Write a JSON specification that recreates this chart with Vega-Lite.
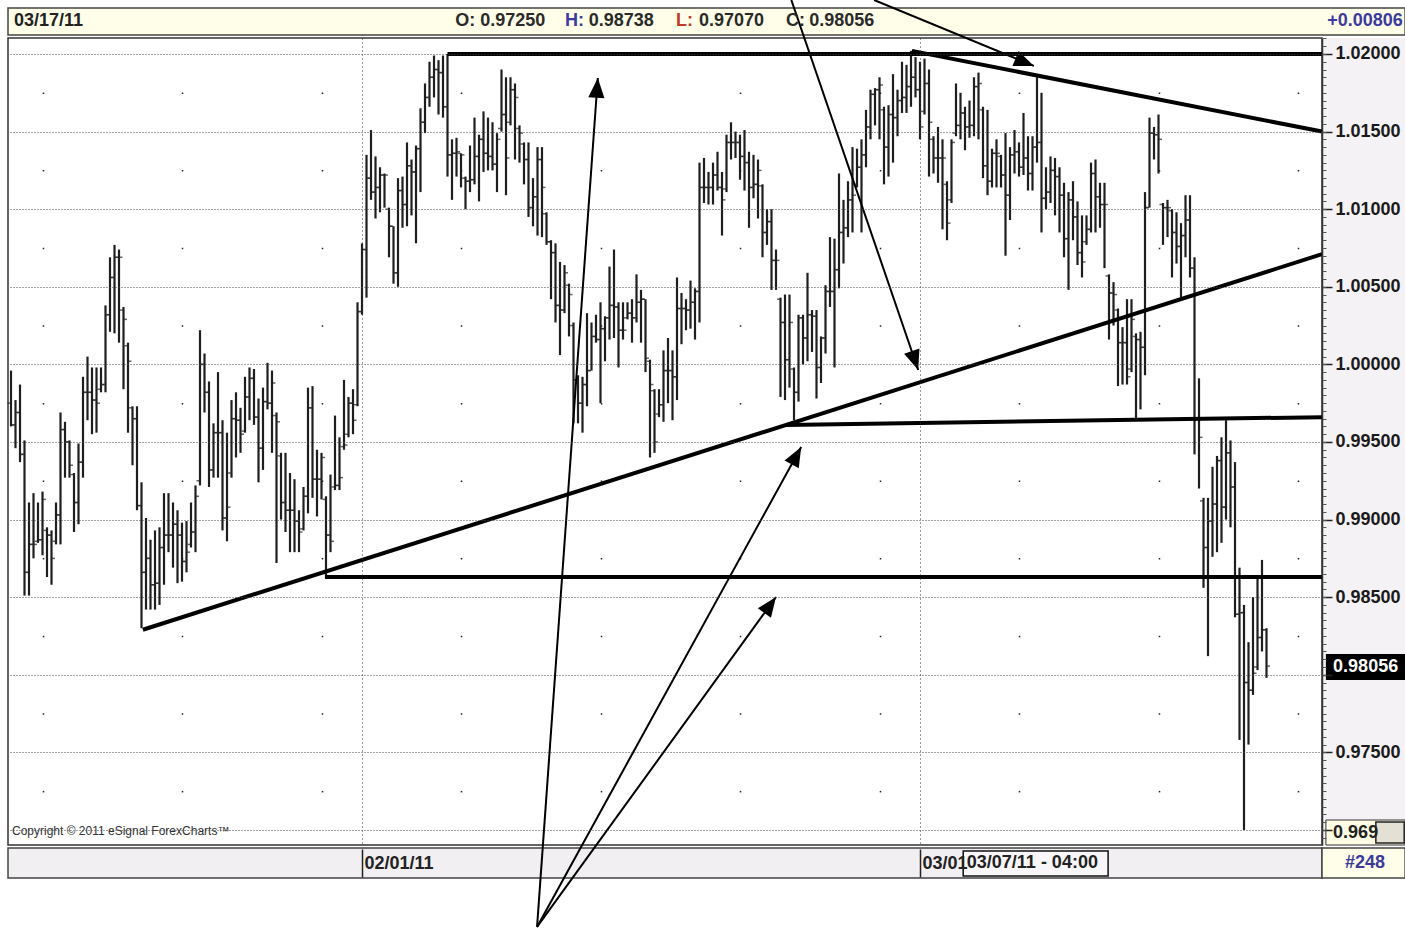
{
"$schema": "https://vega.github.io/schema/vega-lite/v6.json",
"width": 1314, "height": 807,
"autosize": {"type": "none"},
"padding": {"left": 8, "top": 38, "right": 83, "bottom": 87},
"background": "white",
"config": {"view": {"stroke": "#333", "strokeWidth": 1.5}, "text": {"font": "Liberation Sans, Arial, sans-serif"}},
"resolve": {"axis": {"x": "independent", "y": "independent"}},
"datasets": {
"bars": [
{"b":0,"o":0.9975,"h":0.9996,"l":0.9960,"c":0.9961},{"b":1,"o":0.9961,"h":0.9977,"l":0.9946,"c":0.9969},{"b":2,"o":0.9969,"h":0.9987,"l":0.9937,"c":0.9942},{"b":3,"o":0.9942,"h":0.9951,"l":0.9851,"c":0.9866},{"b":4,"o":0.9866,"h":0.9911,"l":0.9851,"c":0.9884},{"b":5,"o":0.9884,"h":0.9917,"l":0.9875,"c":0.9884},{"b":6,"o":0.9886,"h":0.9911,"l":0.9885,"c":0.9887},{"b":7,"o":0.9887,"h":0.9918,"l":0.9877,"c":0.9913},{"b":8,"o":0.9893,"h":0.9895,"l":0.9863,"c":0.9890},{"b":9,"o":0.9890,"h":0.9893,"l":0.9858,"c":0.9875},
{"b":10,"o":0.9886,"h":0.9911,"l":0.9884,"c":0.9903},{"b":11,"o":0.9903,"h":0.9969,"l":0.9884,"c":0.9958},{"b":12,"o":0.9958,"h":0.9963,"l":0.9927,"c":0.9950},{"b":13,"o":0.9950,"h":0.9951,"l":0.9927,"c":0.9935},{"b":14,"o":0.9929,"h":0.9930,"l":0.9892,"c":0.9911},{"b":15,"o":0.9911,"h":0.9949,"l":0.9897,"c":0.9937},{"b":16,"o":0.9937,"h":0.9992,"l":0.9927,"c":0.9982},{"b":17,"o":0.9982,"h":1.0005,"l":0.9964,"c":0.9982},{"b":18,"o":0.9982,"h":0.9998,"l":0.9955,"c":0.9977},{"b":19,"o":0.9977,"h":0.9998,"l":0.9956,"c":0.9975},
{"b":20,"o":0.9984,"h":0.9998,"l":0.9982,"c":0.9987},{"b":21,"o":0.9987,"h":1.0038,"l":0.9982,"c":1.0032},{"b":22,"o":1.0032,"h":1.0069,"l":1.0021,"c":1.0056},{"b":23,"o":1.0056,"h":1.0077,"l":1.0020,"c":1.0069},{"b":24,"o":1.0069,"h":1.0074,"l":1.0014,"c":1.0069},{"b":25,"o":1.0035,"h":1.0037,"l":0.9984,"c":1.0029},{"b":26,"o":1.0012,"h":1.0014,"l":0.9956,"c":1.0002},{"b":27,"o":0.9972,"h":0.9973,"l":0.9935,"c":0.9965},{"b":28,"o":0.9965,"h":0.9973,"l":0.9906,"c":0.9909},{"b":29,"o":0.9909,"h":0.9924,"l":0.9830,"c":0.9866},
{"b":30,"o":0.9866,"h":0.9901,"l":0.9842,"c":0.9875},{"b":31,"o":0.9875,"h":0.9887,"l":0.9842,"c":0.9858},{"b":32,"o":0.9858,"h":0.9893,"l":0.9842,"c":0.9859},{"b":33,"o":0.9859,"h":0.9895,"l":0.9845,"c":0.9882},{"b":34,"o":0.9882,"h":0.9917,"l":0.9858,"c":0.9890},{"b":35,"o":0.9890,"h":0.9917,"l":0.9879,"c":0.9890},{"b":36,"o":0.9890,"h":0.9911,"l":0.9869,"c":0.9897},{"b":37,"o":0.9897,"h":0.9906,"l":0.9859,"c":0.9890},{"b":38,"o":0.9890,"h":0.9898,"l":0.9860,"c":0.9873},{"b":39,"o":0.9873,"h":0.9899,"l":0.9866,"c":0.9879},
{"b":40,"o":0.9884,"h":0.9911,"l":0.9882,"c":0.9892},{"b":41,"o":0.9892,"h":0.9922,"l":0.9879,"c":0.9915},{"b":42,"o":0.9925,"h":1.0022,"l":0.9922,"c":1.0000},{"b":43,"o":1.0000,"h":1.0007,"l":0.9969,"c":0.9982},{"b":44,"o":0.9982,"h":0.9989,"l":0.9921,"c":0.9932},{"b":45,"o":0.9932,"h":0.9962,"l":0.9927,"c":0.9956},{"b":46,"o":0.9956,"h":0.9995,"l":0.9927,"c":0.9956},{"b":47,"o":0.9956,"h":0.9964,"l":0.9893,"c":0.9901},{"b":48,"o":0.9901,"h":0.9956,"l":0.9886,"c":0.9908},{"b":49,"o":0.9930,"h":0.9977,"l":0.9927,"c":0.9965},
{"b":50,"o":0.9965,"h":0.9982,"l":0.9940,"c":0.9964},{"b":51,"o":0.9964,"h":0.9972,"l":0.9943,"c":0.9955},{"b":52,"o":0.9957,"h":0.9992,"l":0.9956,"c":0.9979},{"b":53,"o":0.9979,"h":0.9998,"l":0.9964,"c":0.9991},{"b":54,"o":0.9991,"h":0.9997,"l":0.9961,"c":0.9966},{"b":55,"o":0.9966,"h":0.9978,"l":0.9924,"c":0.9946},{"b":56,"o":0.9946,"h":0.9985,"l":0.9932,"c":0.9976},{"b":57,"o":0.9976,"h":1.0001,"l":0.9971,"c":0.9975},{"b":58,"o":0.9975,"h":0.9996,"l":0.9943,"c":0.9988},{"b":59,"o":0.9967,"h":0.9969,"l":0.9872,"c":0.9963},
{"b":60,"o":0.9941,"h":0.9943,"l":0.9900,"c":0.9911},{"b":61,"o":0.9911,"h":0.9943,"l":0.9892,"c":0.9906},{"b":62,"o":0.9906,"h":0.9930,"l":0.9879,"c":0.9906},{"b":63,"o":0.9906,"h":0.9926,"l":0.9879,"c":0.9899},{"b":64,"o":0.9899,"h":0.9906,"l":0.9879,"c":0.9892},{"b":65,"o":0.9894,"h":0.9921,"l":0.9893,"c":0.9915},{"b":66,"o":0.9915,"h":0.9985,"l":0.9904,"c":0.9972},{"b":67,"o":0.9972,"h":0.9986,"l":0.9914,"c":0.9926},{"b":68,"o":0.9926,"h":0.9945,"l":0.9902,"c":0.9926},{"b":69,"o":0.9926,"h":0.9943,"l":0.9913,"c":0.9940},
{"b":70,"o":0.9913,"h":0.9915,"l":0.9862,"c":0.9890},{"b":71,"o":0.9890,"h":0.9929,"l":0.9879,"c":0.9886},{"b":72,"o":0.9921,"h":0.9967,"l":0.9919,"c":0.9922},{"b":73,"o":0.9922,"h":0.9953,"l":0.9919,"c":0.9927},{"b":74,"o":0.9947,"h":0.9990,"l":0.9945,"c":0.9948},{"b":75,"o":0.9955,"h":0.9979,"l":0.9953,"c":0.9975},{"b":76,"o":0.9975,"h":0.9984,"l":0.9955,"c":0.9964},{"b":77,"o":0.9974,"h":1.0040,"l":0.9973,"c":1.0034},{"b":78,"o":1.0034,"h":1.0078,"l":1.0032,"c":1.0074},{"b":79,"o":1.0074,"h":1.0135,"l":1.0043,"c":1.0120},
{"b":80,"o":1.0120,"h":1.0151,"l":1.0106,"c":1.0111},{"b":81,"o":1.0111,"h":1.0134,"l":1.0094,"c":1.0114},{"b":82,"o":1.0114,"h":1.0127,"l":1.0098,"c":1.0122},{"b":83,"o":1.0122,"h":1.0123,"l":1.0101,"c":1.0122},{"b":84,"o":1.0100,"h":1.0101,"l":1.0069,"c":1.0089},{"b":85,"o":1.0089,"h":1.0089,"l":1.0052,"c":1.0059},{"b":86,"o":1.0059,"h":1.0120,"l":1.0050,"c":1.0112},{"b":87,"o":1.0112,"h":1.0121,"l":1.0088,"c":1.0103},{"b":88,"o":1.0103,"h":1.0143,"l":1.0089,"c":1.0128},{"b":89,"o":1.0128,"h":1.0132,"l":1.0096,"c":1.0124},
{"b":90,"o":1.0124,"h":1.0141,"l":1.0078,"c":1.0139},{"b":91,"o":1.0139,"h":1.0165,"l":1.0111,"c":1.0156},{"b":92,"o":1.0156,"h":1.0181,"l":1.0149,"c":1.0172},{"b":93,"o":1.0172,"h":1.0195,"l":1.0166,"c":1.0185},{"b":94,"o":1.0185,"h":1.0199,"l":1.0172,"c":1.0190},{"b":95,"o":1.0190,"h":1.0196,"l":1.0161,"c":1.0188},{"b":96,"o":1.0188,"h":1.0199,"l":1.0159,"c":1.0166},{"b":97,"o":1.0166,"h":1.0200,"l":1.0121,"c":1.0135},{"b":98,"o":1.0135,"h":1.0145,"l":1.0106,"c":1.0136},{"b":99,"o":1.0136,"h":1.0146,"l":1.0121,"c":1.0137},
{"b":100,"o":1.0136,"h":1.0136,"l":1.0114,"c":1.0135},{"b":101,"o":1.0120,"h":1.0121,"l":1.0100,"c":1.0118},{"b":102,"o":1.0118,"h":1.0141,"l":1.0111,"c":1.0119},{"b":103,"o":1.0119,"h":1.0159,"l":1.0116,"c":1.0134},{"b":104,"o":1.0134,"h":1.0148,"l":1.0105,"c":1.0145},{"b":105,"o":1.0145,"h":1.0163,"l":1.0124,"c":1.0136},{"b":106,"o":1.0136,"h":1.0159,"l":1.0125,"c":1.0134},{"b":107,"o":1.0134,"h":1.0156,"l":1.0125,"c":1.0129},{"b":108,"o":1.0129,"h":1.0149,"l":1.0111,"c":1.0145},{"b":109,"o":1.0152,"h":1.0190,"l":1.0150,"c":1.0161},
{"b":110,"o":1.0161,"h":1.0185,"l":1.0109,"c":1.0133},{"b":111,"o":1.0156,"h":1.0185,"l":1.0154,"c":1.0177},{"b":112,"o":1.0177,"h":1.0181,"l":1.0132,"c":1.0172},{"b":113,"o":1.0152,"h":1.0154,"l":1.0130,"c":1.0149},{"b":114,"o":1.0142,"h":1.0143,"l":1.0116,"c":1.0132},{"b":115,"o":1.0132,"h":1.0143,"l":1.0095,"c":1.0101},{"b":116,"o":1.0101,"h":1.0120,"l":1.0089,"c":1.0108},{"b":117,"o":1.0108,"h":1.0140,"l":1.0083,"c":1.0132},{"b":118,"o":1.0132,"h":1.0140,"l":1.0082,"c":1.0114},{"b":119,"o":1.0097,"h":1.0098,"l":1.0077,"c":1.0079},
{"b":120,"o":1.0079,"h":1.0080,"l":1.0042,"c":1.0072},{"b":121,"o":1.0072,"h":1.0078,"l":1.0027,"c":1.0038},{"b":122,"o":1.0038,"h":1.0066,"l":1.0006,"c":1.0035},{"b":123,"o":1.0035,"h":1.0064,"l":1.0033,"c":1.0059},{"b":124,"o":1.0051,"h":1.0052,"l":1.0018,"c":1.0045},{"b":125,"o":1.0025,"h":1.0027,"l":0.9962,"c":0.9990},{"b":126,"o":0.9990,"h":0.9993,"l":0.9962,"c":0.9975},{"b":127,"o":0.9975,"h":0.9992,"l":0.9956,"c":0.9987},{"b":128,"o":0.9987,"h":1.0033,"l":0.9973,"c":0.9996},{"b":129,"o":0.9996,"h":1.0027,"l":0.9996,"c":1.0018},
{"b":130,"o":1.0018,"h":1.0032,"l":1.0014,"c":1.0016},{"b":131,"o":1.0016,"h":1.0040,"l":0.9975,"c":1.0023},{"b":132,"o":1.0023,"h":1.0031,"l":1.0002,"c":1.0030},{"b":133,"o":1.0030,"h":1.0063,"l":1.0016,"c":1.0038},{"b":134,"o":1.0038,"h":1.0074,"l":1.0017,"c":1.0037},{"b":135,"o":1.0037,"h":1.0040,"l":0.9998,"c":1.0022},{"b":136,"o":1.0022,"h":1.0040,"l":1.0016,"c":1.0022},{"b":137,"o":1.0030,"h":1.0040,"l":1.0029,"c":1.0033},{"b":138,"o":1.0033,"h":1.0042,"l":1.0014,"c":1.0030},{"b":139,"o":1.0030,"h":1.0058,"l":1.0027,"c":1.0040},
{"b":140,"o":1.0040,"h":1.0048,"l":1.0014,"c":1.0042},{"b":141,"o":1.0042,"h":1.0042,"l":0.9995,"c":1.0004},{"b":142,"o":1.0002,"h":1.0003,"l":0.9940,"c":0.9987},{"b":143,"o":0.9983,"h":0.9984,"l":0.9943,"c":0.9950},{"b":144,"o":0.9968,"h":0.9984,"l":0.9966,"c":0.9974},{"b":145,"o":0.9974,"h":1.0009,"l":0.9963,"c":0.9996},{"b":146,"o":0.9996,"h":1.0017,"l":0.9975,"c":0.9996},{"b":147,"o":0.9996,"h":1.0009,"l":0.9964,"c":0.9992},{"b":148,"o":0.9992,"h":1.0056,"l":0.9977,"c":1.0036},{"b":149,"o":1.0036,"h":1.0046,"l":1.0013,"c":1.0036},
{"b":150,"o":1.0036,"h":1.0042,"l":1.0022,"c":1.0035},{"b":151,"o":1.0035,"h":1.0054,"l":1.0023,"c":1.0040},{"b":152,"o":1.0040,"h":1.0049,"l":1.0016,"c":1.0047},{"b":153,"o":1.0047,"h":1.0130,"l":1.0027,"c":1.0114},{"b":154,"o":1.0114,"h":1.0133,"l":1.0104,"c":1.0114},{"b":155,"o":1.0114,"h":1.0124,"l":1.0103,"c":1.0114},{"b":156,"o":1.0114,"h":1.0130,"l":1.0103,"c":1.0122},{"b":157,"o":1.0122,"h":1.0137,"l":1.0112,"c":1.0114},{"b":158,"o":1.0114,"h":1.0124,"l":1.0083,"c":1.0106},{"b":159,"o":1.0113,"h":1.0148,"l":1.0111,"c":1.0143},
{"b":160,"o":1.0143,"h":1.0156,"l":1.0132,"c":1.0143},{"b":161,"o":1.0143,"h":1.0150,"l":1.0133,"c":1.0143},{"b":162,"o":1.0143,"h":1.0148,"l":1.0119,"c":1.0134},{"b":163,"o":1.0134,"h":1.0151,"l":1.0112,"c":1.0130},{"b":164,"o":1.0130,"h":1.0137,"l":1.0088,"c":1.0114},{"b":165,"o":1.0114,"h":1.0135,"l":1.0107,"c":1.0116},{"b":166,"o":1.0116,"h":1.0132,"l":1.0094,"c":1.0125},{"b":167,"o":1.0115,"h":1.0116,"l":1.0069,"c":1.0085},{"b":168,"o":1.0085,"h":1.0100,"l":1.0077,"c":1.0092},{"b":169,"o":1.0092,"h":1.0100,"l":1.0048,"c":1.0067},
{"b":170,"o":1.0067,"h":1.0074,"l":1.0048,"c":1.0067},{"b":171,"o":1.0042,"h":1.0043,"l":0.9979,"c":1.0027},{"b":172,"o":1.0027,"h":1.0045,"l":0.9977,"c":1.0003},{"b":173,"o":1.0003,"h":1.0045,"l":0.9985,"c":1.0027},{"b":174,"o":0.9997,"h":0.9998,"l":0.9964,"c":0.9982},{"b":175,"o":0.9982,"h":1.0032,"l":0.9976,"c":1.0030},{"b":176,"o":1.0030,"h":1.0032,"l":1.0000,"c":1.0017},{"b":177,"o":1.0017,"h":1.0059,"l":1.0002,"c":1.0032},{"b":178,"o":1.0032,"h":1.0035,"l":1.0008,"c":1.0031},{"b":179,"o":1.0031,"h":1.0035,"l":0.9978,"c":0.9998},
{"b":180,"o":0.9998,"h":1.0018,"l":0.9988,"c":1.0017},{"b":181,"o":1.0017,"h":1.0051,"l":1.0007,"c":1.0047},{"b":182,"o":1.0047,"h":1.0082,"l":1.0037,"c":1.0047},{"b":183,"o":1.0047,"h":1.0081,"l":0.9998,"c":1.0061},{"b":184,"o":1.0061,"h":1.0123,"l":1.0049,"c":1.0085},{"b":185,"o":1.0085,"h":1.0106,"l":1.0065,"c":1.0088},{"b":186,"o":1.0088,"h":1.0118,"l":1.0082,"c":1.0106},{"b":187,"o":1.0106,"h":1.0140,"l":1.0085,"c":1.0109},{"b":188,"o":1.0116,"h":1.0139,"l":1.0114,"c":1.0127},{"b":189,"o":1.0127,"h":1.0145,"l":1.0085,"c":1.0135},
{"b":190,"o":1.0135,"h":1.0164,"l":1.0127,"c":1.0153},{"b":191,"o":1.0153,"h":1.0177,"l":1.0145,"c":1.0174},{"b":192,"o":1.0174,"h":1.0178,"l":1.0154,"c":1.0177},{"b":193,"o":1.0177,"h":1.0185,"l":1.0145,"c":1.0180},{"b":194,"o":1.0164,"h":1.0166,"l":1.0116,"c":1.0140},{"b":195,"o":1.0140,"h":1.0167,"l":1.0121,"c":1.0161},{"b":196,"o":1.0161,"h":1.0187,"l":1.0130,"c":1.0159},{"b":197,"o":1.0159,"h":1.0177,"l":1.0147,"c":1.0170},{"b":198,"o":1.0170,"h":1.0195,"l":1.0162,"c":1.0172},{"b":199,"o":1.0172,"h":1.0193,"l":1.0162,"c":1.0179},
{"b":200,"o":1.0179,"h":1.0202,"l":1.0166,"c":1.0185},{"b":201,"o":1.0185,"h":1.0198,"l":1.0172,"c":1.0177},{"b":202,"o":1.0177,"h":1.0195,"l":1.0145,"c":1.0153},{"b":203,"o":1.0163,"h":1.0197,"l":1.0161,"c":1.0181},{"b":204,"o":1.0181,"h":1.0190,"l":1.0121,"c":1.0156},{"b":205,"o":1.0145,"h":1.0147,"l":1.0123,"c":1.0133},{"b":206,"o":1.0133,"h":1.0153,"l":1.0117,"c":1.0133},{"b":207,"o":1.0133,"h":1.0145,"l":1.0087,"c":1.0133},{"b":208,"o":1.0116,"h":1.0118,"l":1.0080,"c":1.0091},{"b":209,"o":1.0106,"h":1.0145,"l":1.0104,"c":1.0143},
{"b":210,"o":1.0149,"h":1.0181,"l":1.0147,"c":1.0154},{"b":211,"o":1.0154,"h":1.0175,"l":1.0145,"c":1.0162},{"b":212,"o":1.0162,"h":1.0166,"l":1.0138,"c":1.0153},{"b":213,"o":1.0153,"h":1.0170,"l":1.0146,"c":1.0154},{"b":214,"o":1.0154,"h":1.0185,"l":1.0147,"c":1.0179},{"b":215,"o":1.0179,"h":1.0188,"l":1.0145,"c":1.0181},{"b":216,"o":1.0164,"h":1.0166,"l":1.0120,"c":1.0128},{"b":217,"o":1.0128,"h":1.0164,"l":1.0109,"c":1.0118},{"b":218,"o":1.0118,"h":1.0139,"l":1.0114,"c":1.0136},{"b":219,"o":1.0136,"h":1.0145,"l":1.0114,"c":1.0136},
{"b":220,"o":1.0134,"h":1.0135,"l":1.0114,"c":1.0122},{"b":221,"o":1.0122,"h":1.0149,"l":1.0070,"c":1.0109},{"b":222,"o":1.0109,"h":1.0140,"l":1.0093,"c":1.0135},{"b":223,"o":1.0135,"h":1.0151,"l":1.0123,"c":1.0137},{"b":224,"o":1.0137,"h":1.0143,"l":1.0121,"c":1.0127},{"b":225,"o":1.0127,"h":1.0162,"l":1.0122,"c":1.0133},{"b":226,"o":1.0133,"h":1.0147,"l":1.0112,"c":1.0123},{"b":227,"o":1.0123,"h":1.0147,"l":1.0112,"c":1.0140},{"b":228,"o":1.0140,"h":1.0185,"l":1.0130,"c":1.0143},{"b":229,"o":1.0143,"h":1.0175,"l":1.0085,"c":1.0107},
{"b":230,"o":1.0107,"h":1.0127,"l":1.0100,"c":1.0111},{"b":231,"o":1.0111,"h":1.0134,"l":1.0104,"c":1.0125},{"b":232,"o":1.0125,"h":1.0133,"l":1.0096,"c":1.0121},{"b":233,"o":1.0121,"h":1.0127,"l":1.0085,"c":1.0109},{"b":234,"o":1.0109,"h":1.0117,"l":1.0069,"c":1.0081},{"b":235,"o":1.0081,"h":1.0111,"l":1.0048,"c":1.0106},{"b":236,"o":1.0106,"h":1.0118,"l":1.0080,"c":1.0095},{"b":237,"o":1.0095,"h":1.0105,"l":1.0064,"c":1.0072},{"b":238,"o":1.0072,"h":1.0096,"l":1.0056,"c":1.0066},{"b":239,"o":1.0079,"h":1.0096,"l":1.0077,"c":1.0087},
{"b":240,"o":1.0087,"h":1.0130,"l":1.0085,"c":1.0123},{"b":241,"o":1.0123,"h":1.0132,"l":1.0085,"c":1.0108},{"b":242,"o":1.0108,"h":1.0117,"l":1.0088,"c":1.0103},{"b":243,"o":1.0103,"h":1.0117,"l":1.0062,"c":1.0103},{"b":244,"o":1.0057,"h":1.0058,"l":1.0016,"c":1.0046},{"b":245,"o":1.0046,"h":1.0053,"l":1.0025,"c":1.0045},{"b":246,"o":1.0035,"h":1.0036,"l":0.9986,"c":1.0014},{"b":247,"o":1.0014,"h":1.0024,"l":0.9987,"c":1.0014},{"b":248,"o":1.0014,"h":1.0042,"l":0.9987,"c":0.9992},{"b":249,"o":0.9997,"h":1.0042,"l":0.9995,"c":1.0029},
{"b":250,"o":1.0018,"h":1.0020,"l":0.9965,"c":1.0016},{"b":251,"o":1.0016,"h":1.0021,"l":0.9971,"c":1.0011},{"b":252,"o":1.0011,"h":1.0111,"l":0.9993,"c":1.0101},{"b":253,"o":1.0101,"h":1.0159,"l":1.0101,"c":1.0149},{"b":254,"o":1.0149,"h":1.0153,"l":1.0132,"c":1.0148},{"b":255,"o":1.0148,"h":1.0161,"l":1.0123,"c":1.0145},{"b":256,"o":1.0103,"h":1.0104,"l":1.0077,"c":1.0101},{"b":257,"o":1.0101,"h":1.0106,"l":1.0082,"c":1.0101},{"b":258,"o":1.0099,"h":1.0100,"l":1.0056,"c":1.0085},{"b":259,"o":1.0085,"h":1.0098,"l":1.0065,"c":1.0076},
{"b":260,"o":1.0076,"h":1.0091,"l":1.0043,"c":1.0083},{"b":261,"o":1.0083,"h":1.0109,"l":1.0069,"c":1.0093},{"b":262,"o":1.0093,"h":1.0109,"l":1.0056,"c":1.0062},{"b":263,"o":1.0062,"h":1.0069,"l":0.9942,"c":0.9965},{"b":264,"o":0.9965,"h":0.9991,"l":0.9920,"c":0.9953},{"b":265,"o":0.9912,"h":0.9914,"l":0.9856,"c":0.9882},{"b":266,"o":0.9882,"h":0.9914,"l":0.9812,"c":0.9899},{"b":267,"o":0.9899,"h":0.9934,"l":0.9876,"c":0.9910},{"b":268,"o":0.9910,"h":0.9941,"l":0.9879,"c":0.9938},{"b":269,"o":0.9938,"h":0.9953,"l":0.9885,"c":0.9908},
{"b":270,"o":0.9908,"h":0.9964,"l":0.9900,"c":0.9943},{"b":271,"o":0.9943,"h":0.9951,"l":0.9895,"c":0.9921},{"b":272,"o":0.9921,"h":0.9937,"l":0.9837,"c":0.9839},{"b":273,"o":0.9839,"h":0.9869,"l":0.9758,"c":0.9840},{"b":274,"o":0.9840,"h":0.9845,"l":0.9700,"c":0.9795},{"b":275,"o":0.9795,"h":0.9821,"l":0.9755,"c":0.9790},{"b":276,"o":0.9790,"h":0.9850,"l":0.9787,"c":0.9801},{"b":277,"o":0.9805,"h":0.9863,"l":0.9803,"c":0.9824},{"b":278,"o":0.9824,"h":0.9874,"l":0.9815,"c":0.9829},{"b":279,"o":0.9829,"h":0.9830,"l":0.9798,"c":0.98056}
],
"lines": [
{"b1":97,"v1":1.0200,"b2":291.333,"v2":1.0200},
{"b1":200.2,"v1":1.0202,"b2":291.333,"v2":1.0150},
{"b1":29.3,"v1":0.9829,"b2":291.333,"v2":1.0071},
{"b1":172.4,"v1":0.9961,"b2":291.333,"v2":0.9966},
{"b1":69.8,"v1":0.9863,"b2":291.333,"v2":0.9863}
],
"arrows": [
{"b1":116.9,"v1":0.96375,"b2":130.4,"v2":1.01845,"ang":4.1},
{"b1":116.9,"v1":0.96375,"b2":175.6,"v2":0.99468,"ang":28.8},
{"b1":116.9,"v1":0.96375,"b2":170.0,"v2":0.98501,"ang":35.9},
{"b1":173.4,"v1":1.02348,"b2":201.6,"v2":0.99964,"ang":161.1},
{"b1":191.8,"v1":1.02348,"b2":227.3,"v2":1.01923,"ang":112.4}
]
},
"layer": [
{"data": {"values": [{}]}, "mark": {"type": "rect", "fill": "#F4F2F5"},
 "encoding": {"x": {"datum": 291.333, "type": "quantitative", "scale": {"domain": [-0.667, 291.333], "nice": false, "zero": false}, "axis": null}, "x2": {"datum": 309.8},
  "y": {"datum": 0.96903, "type": "quantitative", "scale": {"domain": [0.96903, 1.02103], "nice": false, "zero": false}, "axis": null}, "y2": {"datum": 1.02103}}},
{"data": {"values": [{}]}, "mark": {"type": "rect", "fill": "#FFFEE8", "stroke": "#444", "strokeWidth": 1.5},
 "encoding": {"x": {"datum": -0.667, "type": "quantitative", "axis": null}, "x2": {"datum": 309.8},
  "y": {"datum": 1.02296, "type": "quantitative", "axis": null}, "y2": {"datum": 1.02122}}},
{"data": {"values": [{}]}, "mark": {"type": "rect", "fill": "#F1EFF1", "stroke": "#444", "strokeWidth": 1.5},
 "encoding": {"x": {"datum": -0.667, "type": "quantitative", "axis": null}, "x2": {"datum": 291.333},
  "y": {"datum": 0.96884, "type": "quantitative", "axis": null}, "y2": {"datum": 0.96691}}},
{"data": {"values": [{}]}, "mark": {"type": "rect", "fill": "#FFFEE8", "stroke": "#444", "strokeWidth": 1.5},
 "encoding": {"x": {"datum": 291.333, "type": "quantitative", "axis": null}, "x2": {"datum": 309.8},
  "y": {"datum": 0.96884, "type": "quantitative", "axis": null}, "y2": {"datum": 0.96691}}},
{"data": {"values": [{}]}, "mark": {"type": "rect", "fill": "#F8F6F8", "stroke": "#111", "strokeWidth": 1.5},
 "encoding": {"x": {"datum": 211.6, "type": "quantitative", "axis": null}, "x2": {"datum": 243.8},
  "y": {"datum": 0.96865, "type": "quantitative", "axis": null}, "y2": {"datum": 0.96703}}},
{"data": {"name": "bars"}, "mark": {"type": "rule", "color": "#1e1e1e", "strokeWidth": 2.2},
 "encoding": {
  "x": {"field": "b", "type": "quantitative", "axis": {"orient": "bottom", "values": [78, 202], "labelExpr": "datum.value < 100 ? '02/01/11' : '03/01'", "title": null, "domain": false, "offset": 4, "ticks": true, "tickSize": 28, "tickColor": "#222", "tickWidth": 1.5, "labelAlign": "left", "labelBaseline": "middle", "labelPadding": -14, "labelOffset": 2, "labelFont": "Liberation Sans, Arial, sans-serif", "labelFontSize": 18, "labelFontWeight": "bold", "labelColor": "#222", "labelFlush": false, "labelOverlap": false, "grid": true, "gridDash": [1, 3], "gridColor": "#333", "gridWidth": 1, "zindex": 1}},
  "y": {"field": "h", "type": "quantitative", "axis": {"orient": "right", "values": [0.97, 0.975, 0.98, 0.985, 0.99, 0.995, 1.0, 1.005, 1.01, 1.015, 1.02], "labelExpr": "(datum.value < 0.9705 || abs(datum.value - 0.98) < 0.001) ? '' : format(datum.value, '.5f')", "title": null, "domain": true, "domainColor": "#333", "domainWidth": 1.5, "tickSize": 10, "tickColor": "#222", "tickWidth": 1.5, "labelPadding": 3, "labelFont": "Liberation Sans, Arial, sans-serif", "labelFontSize": 18, "labelFontWeight": "bold", "labelColor": "#1a1a1a", "labelBaseline": "middle", "labelAlign": "left", "labelOverlap": false, "labelFlush": false, "labelBound": false, "grid": true, "gridDash": [1, 2], "gridColor": "#444", "gridWidth": 1, "zindex": 1}},
  "y2": {"field": "l"}}},
{"data": {"name": "bars"}, "mark": {"type": "tick", "orient": "horizontal", "size": 3, "thickness": 1.5, "color": "#222", "xOffset": -2},
 "encoding": {"x": {"field": "b", "type": "quantitative", "axis": null}, "y": {"field": "o", "type": "quantitative", "axis": null}}},
{"data": {"name": "bars"}, "mark": {"type": "tick", "orient": "horizontal", "size": 3, "thickness": 1.5, "color": "#222", "xOffset": 2},
 "encoding": {"x": {"field": "b", "type": "quantitative", "axis": null}, "y": {"field": "c", "type": "quantitative", "axis": null}}},
{"data": {"name": "lines"}, "mark": {"type": "rule", "color": "#000", "strokeWidth": 4},
 "encoding": {
  "x": {"field": "b1", "type": "quantitative", "axis": {"orient": "bottom", "values": [7, 38, 69, 100, 131, 162, 193, 224, 255, 286], "labels": false, "ticks": false, "domain": false, "title": null, "grid": true, "gridDash": [1.5, 76.1], "gridDashOffset": 23.6, "gridColor": "#222", "gridWidth": 1.5}},
  "y": {"field": "v1", "type": "quantitative", "axis": {"orient": "right", "tickCount": 104, "labels": false, "domain": false, "grid": false, "ticks": true, "tickSize": 4, "tickColor": "#555", "tickWidth": 1, "title": null, "zindex": 1}},
  "x2": {"field": "b2"}, "y2": {"field": "v2"}}},
{"data": {"name": "arrows"}, "mark": {"type": "rule", "color": "#000", "strokeWidth": 2},
 "encoding": {"x": {"field": "b1", "type": "quantitative", "axis": null}, "y": {"field": "v1", "type": "quantitative", "axis": null}, "x2": {"field": "b2"}, "y2": {"field": "v2"}}},
{"data": {"name": "arrows"}, "mark": {"type": "point", "shape": "M0,0L0.9,2.2L-0.9,2.2Z", "filled": true, "color": "#000", "opacity": 1, "size": 324},
 "encoding": {"x": {"field": "b2", "type": "quantitative", "axis": null}, "y": {"field": "v2", "type": "quantitative", "axis": null}, "angle": {"field": "ang", "type": "quantitative", "scale": null}}},
{"data": {"values": [{}]}, "mark": {"type": "rect", "fill": "#000"},
 "encoding": {"x": {"datum": 292.2, "type": "quantitative", "axis": null}, "x2": {"datum": 309.8},
  "y": {"datum": 0.98134, "type": "quantitative", "axis": null}, "y2": {"datum": 0.97966}}},
{"data": {"values": [{}]}, "mark": {"type": "rect", "fill": "#FFFCE6", "stroke": "#333", "strokeWidth": 1},
 "encoding": {"x": {"datum": 292.2, "type": "quantitative", "axis": null}, "x2": {"datum": 309.8},
  "y": {"datum": 0.97064, "type": "quantitative", "axis": null}, "y2": {"datum": 0.96903}}},
{"data": {"values": [{}]}, "mark": {"type": "rect", "fill": "#E4E0D4", "stroke": "#222", "strokeWidth": 1.5},
 "encoding": {"x": {"datum": 303.3, "type": "quantitative", "axis": null}, "x2": {"datum": 309.6},
  "y": {"datum": 0.97052, "type": "quantitative", "axis": null}, "y2": {"datum": 0.96916}}},
{"data": {"values": [{}]}, "mark": {"type": "text", "text": "03/17/11", "align": "left", "baseline": "middle", "fontSize": 18, "fontWeight": "bold", "color": "#222"},
 "encoding": {"x": {"datum": 0.67, "type": "quantitative", "axis": null}, "y": {"datum": 1.02213, "type": "quantitative", "axis": null}}},
{"data": {"values": [{}]}, "mark": {"type": "text", "text": "O: 0.97250", "align": "left", "baseline": "middle", "fontSize": 18, "fontWeight": "bold", "color": "#2a2a2a"},
 "encoding": {"x": {"datum": 98.7, "type": "quantitative", "axis": null}, "y": {"datum": 1.02213, "type": "quantitative", "axis": null}}},
{"data": {"values": [{}]}, "mark": {"type": "text", "text": "H:", "align": "left", "baseline": "middle", "fontSize": 18, "fontWeight": "bold", "color": "#3b3b9e"},
 "encoding": {"x": {"datum": 123.1, "type": "quantitative", "axis": null}, "y": {"datum": 1.02213, "type": "quantitative", "axis": null}}},
{"data": {"values": [{}]}, "mark": {"type": "text", "text": "0.98738", "align": "left", "baseline": "middle", "fontSize": 18, "fontWeight": "bold", "color": "#2a2a2a"},
 "encoding": {"x": {"datum": 128.4, "type": "quantitative", "axis": null}, "y": {"datum": 1.02213, "type": "quantitative", "axis": null}}},
{"data": {"values": [{}]}, "mark": {"type": "text", "text": "L:", "align": "left", "baseline": "middle", "fontSize": 18, "fontWeight": "bold", "color": "#c0392b"},
 "encoding": {"x": {"datum": 147.8, "type": "quantitative", "axis": null}, "y": {"datum": 1.02213, "type": "quantitative", "axis": null}}},
{"data": {"values": [{}]}, "mark": {"type": "text", "text": "0.97070", "align": "left", "baseline": "middle", "fontSize": 18, "fontWeight": "bold", "color": "#2a2a2a"},
 "encoding": {"x": {"datum": 152.9, "type": "quantitative", "axis": null}, "y": {"datum": 1.02213, "type": "quantitative", "axis": null}}},
{"data": {"values": [{}]}, "mark": {"type": "text", "text": "C:", "align": "left", "baseline": "middle", "fontSize": 18, "fontWeight": "bold", "color": "#2a2a2a"},
 "encoding": {"x": {"datum": 172.2, "type": "quantitative", "axis": null}, "y": {"datum": 1.02213, "type": "quantitative", "axis": null}}},
{"data": {"values": [{}]}, "mark": {"type": "text", "text": "0.98056", "align": "left", "baseline": "middle", "fontSize": 18, "fontWeight": "bold", "color": "#2a2a2a"},
 "encoding": {"x": {"datum": 177.4, "type": "quantitative", "axis": null}, "y": {"datum": 1.02213, "type": "quantitative", "axis": null}}},
{"data": {"values": [{}]}, "mark": {"type": "text", "text": "+0.00806", "align": "right", "baseline": "middle", "fontSize": 18, "fontWeight": "bold", "color": "#3b3b9e"},
 "encoding": {"x": {"datum": 309.3, "type": "quantitative", "axis": null}, "y": {"datum": 1.02213, "type": "quantitative", "axis": null}}},
{"data": {"values": [{}]}, "mark": {"type": "text", "text": "Copyright © 2011 eSignal ForexCharts™", "align": "left", "baseline": "middle", "fontSize": 12, "color": "#333"},
 "encoding": {"x": {"datum": 0.22, "type": "quantitative", "axis": null}, "y": {"datum": 0.96993, "type": "quantitative", "axis": null}}},
{"data": {"values": [{}]}, "mark": {"type": "text", "text": "0.98056", "align": "left", "baseline": "middle", "fontSize": 18, "fontWeight": "bold", "color": "#ffffff"},
 "encoding": {"x": {"datum": 293.8, "type": "quantitative", "axis": null}, "y": {"datum": 0.98050, "type": "quantitative", "axis": null}}},
{"data": {"values": [{}]}, "mark": {"type": "text", "text": "0.969", "align": "left", "baseline": "middle", "fontSize": 18, "fontWeight": "bold", "color": "#222"},
 "encoding": {"x": {"datum": 293.8, "type": "quantitative", "axis": null}, "y": {"datum": 0.96981, "type": "quantitative", "axis": null}}},
{"data": {"values": [{}]}, "mark": {"type": "text", "text": "03/07/11 - 04:00", "align": "left", "baseline": "middle", "fontSize": 18, "fontWeight": "bold", "color": "#222"},
 "encoding": {"x": {"datum": 212.4, "type": "quantitative", "axis": null}, "y": {"datum": 0.96787, "type": "quantitative", "axis": null}}},
{"data": {"values": [{}]}, "mark": {"type": "text", "text": "#248", "align": "center", "baseline": "middle", "fontSize": 18, "fontWeight": "bold", "color": "#3b3b9e"},
 "encoding": {"x": {"datum": 300.9, "type": "quantitative", "axis": null}, "y": {"datum": 0.96787, "type": "quantitative", "axis": null}}}
]
}
